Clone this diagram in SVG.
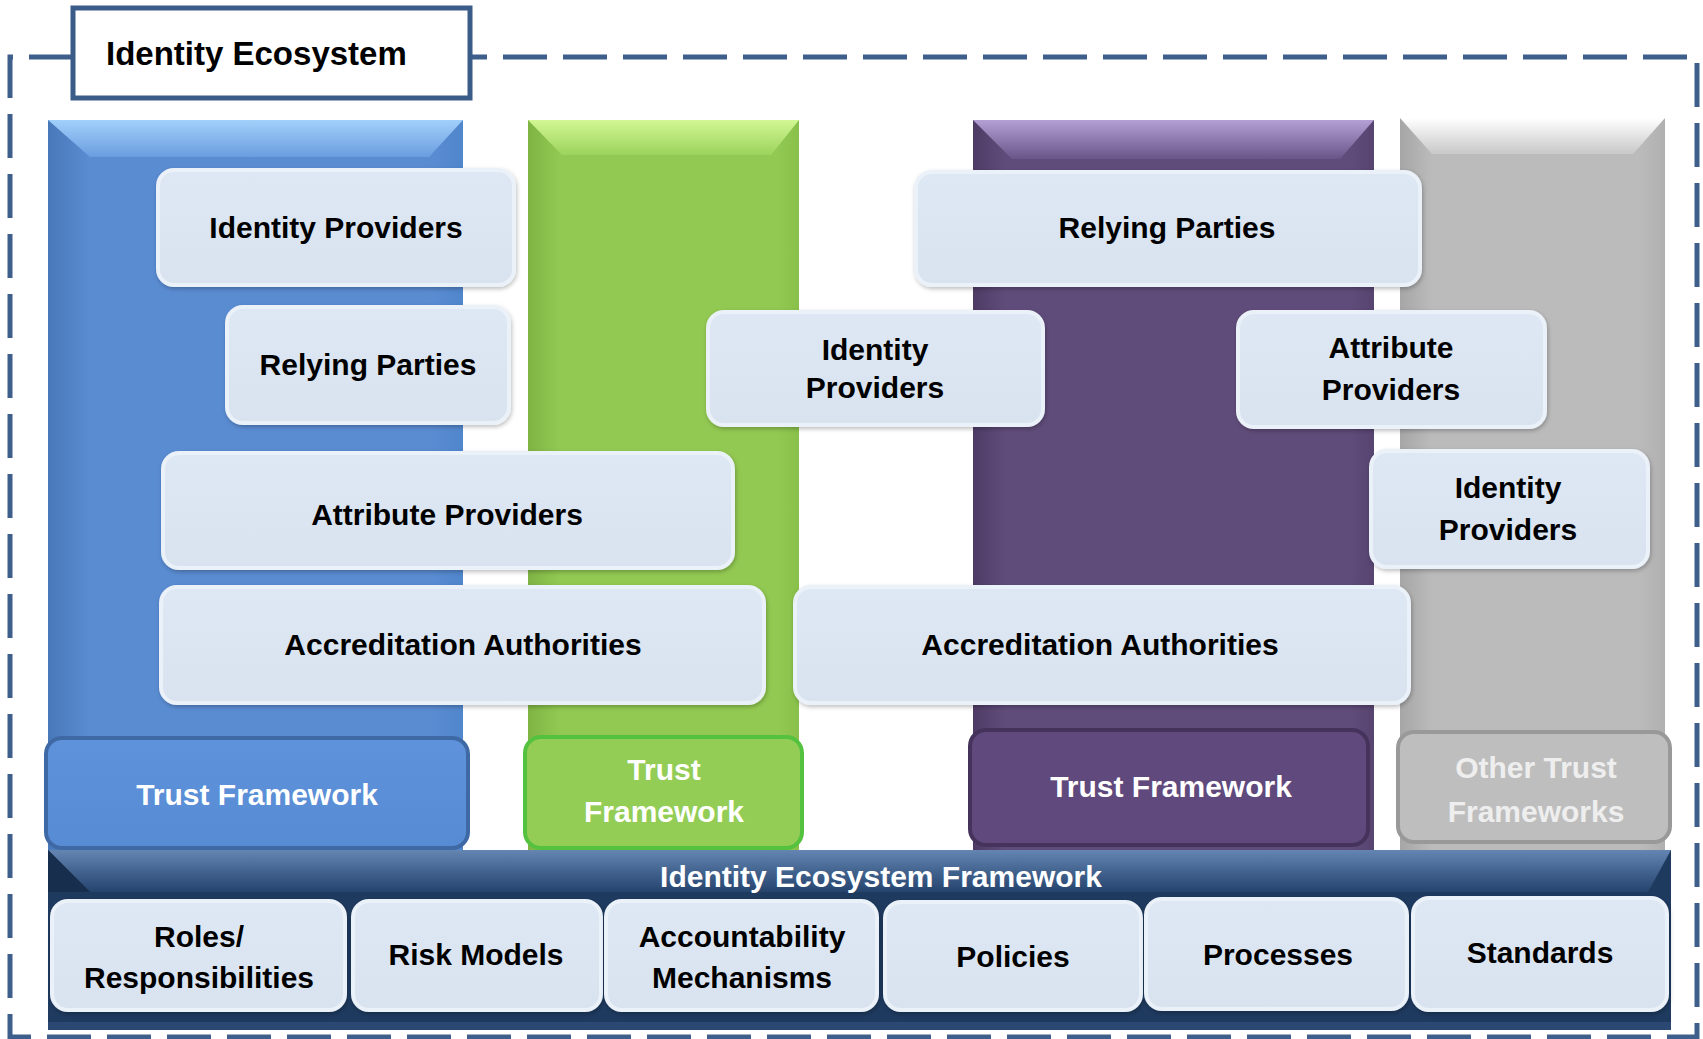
<svg xmlns="http://www.w3.org/2000/svg" width="1703" height="1039" viewBox="0 0 1703 1039">
<style>
.lbl{font-family:"Liberation Sans",Arial,sans-serif;font-weight:bold;font-size:30px;fill:#000;text-anchor:middle}
.wht{fill:#fff}
.gry{fill:#EEEEEE}
.box{fill:url(#boxg);stroke:#EBF1F8;stroke-width:4;filter:url(#sh)}
</style>
<defs>
<filter id="sh" x="-10%" y="-10%" width="120%" height="130%"><feDropShadow dx="1" dy="2" stdDeviation="2" flood-color="#000" flood-opacity="0.25"/></filter>
<linearGradient id="boxg" x1="0" y1="0" x2="0" y2="1"><stop offset="0" stop-color="#DEE8F4"/><stop offset="1" stop-color="#D9E3F0"/></linearGradient>
<linearGradient id="blueMain" x1="0" y1="0" x2="1" y2="0"><stop offset="0" stop-color="#4878B8"/><stop offset="0.1" stop-color="#5A8CD2"/><stop offset="0.92" stop-color="#5A8CD2"/><stop offset="1" stop-color="#5086CC"/></linearGradient>
<linearGradient id="blueTop" x1="0" y1="0" x2="0" y2="1"><stop offset="0" stop-color="#A2D0FB"/><stop offset="1" stop-color="#6A9DDF"/></linearGradient>
<linearGradient id="greenMain" x1="0" y1="0" x2="1" y2="0"><stop offset="0" stop-color="#7FB444"/><stop offset="0.12" stop-color="#92C952"/><stop offset="0.92" stop-color="#92C952"/><stop offset="1" stop-color="#88C04A"/></linearGradient>
<linearGradient id="greenTop" x1="0" y1="0" x2="0" y2="1"><stop offset="0" stop-color="#D2F794"/><stop offset="1" stop-color="#9CD35D"/></linearGradient>
<linearGradient id="purpMain" x1="0" y1="0" x2="1" y2="0"><stop offset="0" stop-color="#4D3B64"/><stop offset="0.08" stop-color="#604C7A"/><stop offset="0.94" stop-color="#604C7A"/><stop offset="1" stop-color="#574470"/></linearGradient>
<linearGradient id="purpTop" x1="0" y1="0" x2="0" y2="1"><stop offset="0" stop-color="#B5A0D5"/><stop offset="1" stop-color="#6A5589"/></linearGradient>
<linearGradient id="grayMain" x1="0" y1="0" x2="1" y2="0"><stop offset="0" stop-color="#A6A6A6"/><stop offset="0.12" stop-color="#BBBBBB"/><stop offset="0.9" stop-color="#BBBBBB"/><stop offset="1" stop-color="#B0B0B0"/></linearGradient>
<linearGradient id="grayTop" x1="0" y1="0" x2="0" y2="1"><stop offset="0" stop-color="#FFFFFF"/><stop offset="1" stop-color="#C8C8C8"/></linearGradient>
<linearGradient id="barTop" x1="0" y1="0" x2="0" y2="1"><stop offset="0" stop-color="#6484B2"/><stop offset="1" stop-color="#24446E"/></linearGradient>
<linearGradient id="tfBlue" x1="0" y1="0" x2="0" y2="1"><stop offset="0" stop-color="#5E92DA"/><stop offset="1" stop-color="#578BD3"/></linearGradient>
</defs>

<g id="frame">
<path d="M73 57 H10 V1037 H1697 V57 H470" fill="none" stroke="#3E5F8C" stroke-width="5" stroke-dasharray="44 16"/>
</g>

<g id="title">
<rect x="73" y="8" width="397" height="90" fill="#fff" stroke="#3B5B88" stroke-width="5"/>
<text x="106" y="65" style="font-family:'Liberation Sans',Arial,sans-serif;font-weight:bold;font-size:33px;fill:#000">Identity Ecosystem</text>
</g>

<g id="col-blue">
<rect x="48" y="120" width="415" height="735" fill="url(#blueMain)"/>
<polygon points="48,120 463,120 429,157 90,157" fill="url(#blueTop)"/>
</g>
<g id="col-green">
<rect x="528" y="120" width="271" height="735" fill="url(#greenMain)"/>
<polygon points="528,120 799,120 771,155 562,155" fill="url(#greenTop)"/>
</g>
<g id="col-purple">
<rect x="973" y="120" width="401" height="735" fill="url(#purpMain)"/>
<polygon points="973,120 1374,120 1340,159 1012,159" fill="url(#purpTop)"/>
</g>
<g id="col-gray">
<rect x="1400" y="118" width="265" height="737" fill="url(#grayMain)"/>
<polygon points="1400,118 1665,118 1633,154 1432,154" fill="url(#grayTop)"/>
</g>

<g id="ief-bar">
<rect x="48" y="850" width="1623" height="180" fill="#1E3A5F"/>
<polygon points="48,850 1671,850 1648,892 90,892" fill="url(#barTop)"/>
<polygon points="48,850 90,892 48,892" fill="#172E4D"/>
<rect x="48" y="1022" width="1623" height="8" fill="#2A4872"/>
<text class="lbl wht" x="881" y="887">Identity Ecosystem Framework</text>
</g>

<g id="ip1"><rect class="box" x="158" y="170" width="356" height="115" rx="16"/><text class="lbl" x="336" y="238">Identity Providers</text></g>
<g id="rp1"><rect class="box" x="227" y="307" width="282" height="116" rx="16"/><text class="lbl" x="368" y="375">Relying Parties</text></g>
<g id="ap1"><rect class="box" x="163" y="453" width="570" height="115" rx="16"/><text class="lbl" x="447" y="525">Attribute Providers</text></g>
<g id="aa1"><rect class="box" x="161" y="587" width="603" height="116" rx="16"/><text class="lbl" x="463" y="655">Accreditation Authorities</text></g>

<g id="ip2"><rect class="box" x="708" y="312" width="335" height="113" rx="16"/><text class="lbl" x="875" y="360">Identity</text><text class="lbl" x="875" y="398">Providers</text></g>
<g id="rp2"><rect class="box" x="916" y="172" width="504" height="113" rx="16"/><text class="lbl" x="1167" y="238">Relying Parties</text></g>
<g id="ap2"><rect class="box" x="1238" y="312" width="307" height="115" rx="16"/><text class="lbl" x="1391" y="358">Attribute</text><text class="lbl" x="1391" y="400">Providers</text></g>
<g id="ip3"><rect class="box" x="1371" y="451" width="277" height="116" rx="16"/><text class="lbl" x="1508" y="498">Identity</text><text class="lbl" x="1508" y="540">Providers</text></g>
<g id="aa2"><rect class="box" x="795" y="587" width="614" height="116" rx="16"/><text class="lbl" x="1100" y="655">Accreditation Authorities</text></g>

<g id="tf1"><rect x="46" y="738" width="422" height="110" rx="16" fill="url(#tfBlue)" stroke="#3E69A4" stroke-width="4"/><text class="lbl wht" x="257" y="805">Trust Framework</text></g>
<g id="tf2"><rect x="525" y="737" width="277" height="111" rx="16" fill="#93CD56" stroke="#55C23F" stroke-width="4"/><text class="lbl wht" x="664" y="780">Trust</text><text class="lbl wht" x="664" y="822">Framework</text></g>
<g id="tf3"><rect x="970" y="730" width="398" height="115" rx="16" fill="#60497D" stroke="#45335C" stroke-width="4"/><text class="lbl wht" x="1171" y="797">Trust Framework</text></g>
<g id="tf4"><rect x="1398" y="732" width="272" height="110" rx="16" fill="#BEBEBE" stroke="#999999" stroke-width="4"/><text class="lbl gry" x="1536" y="778">Other Trust</text><text class="lbl gry" x="1536" y="822">Frameworks</text></g>

<g id="roles"><rect class="box" x="52" y="901" width="293" height="109" rx="16"/><text class="lbl" x="199" y="947">Roles/</text><text class="lbl" x="199" y="988">Responsibilities</text></g>
<g id="risk"><rect class="box" x="353" y="901" width="248" height="109" rx="16"/><text class="lbl" x="476" y="965">Risk Models</text></g>
<g id="acct"><rect class="box" x="606" y="901" width="271" height="109" rx="16"/><text class="lbl" x="742" y="947">Accountability</text><text class="lbl" x="742" y="988">Mechanisms</text></g>
<g id="policies"><rect class="box" x="885" y="902" width="256" height="108" rx="16"/><text class="lbl" x="1013" y="967">Policies</text></g>
<g id="processes"><rect class="box" x="1146" y="899" width="261" height="110" rx="16"/><text class="lbl" x="1278" y="965">Processes</text></g>
<g id="standards"><rect class="box" x="1413" y="898" width="254" height="112" rx="16"/><text class="lbl" x="1540" y="963">Standards</text></g>

<g id="connectors"></g>
</svg>
